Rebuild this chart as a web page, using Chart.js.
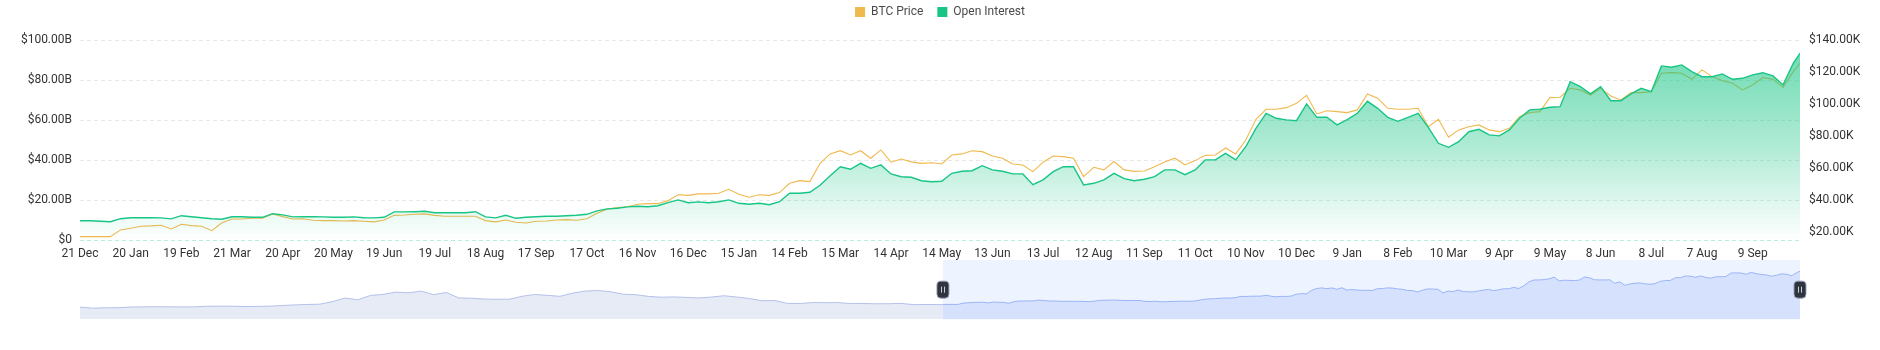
<!DOCTYPE html>
<html>
<head>
<meta charset="utf-8">
<script src="https://cdn.jsdelivr.net/npm/chart.js@4/dist/chart.umd.min.js"></script>
<style>
  html, body { margin: 0; padding: 0; background: #fff; width: 1880px; height: 350px; overflow: hidden; }
  #main { position: absolute; left: 0; top: 0; }
  #zoom { position: absolute; left: 0; top: 250px; }
</style>
</head>
<body>
<canvas id="main" width="1880" height="262"></canvas>
<canvas id="zoom" width="1880" height="80"></canvas>
<script>
// ---- Tick labels (one every 30 daily categories, starting 21 Dec 2022) ----
const tickLabels = ['21 Dec','20 Jan','19 Feb','21 Mar','20 Apr','20 May','19 Jun','19 Jul','18 Aug','17 Sep',
  '17 Oct','16 Nov','16 Dec','15 Jan','14 Feb','15 Mar','14 Apr','14 May','13 Jun','13 Jul','12 Aug','11 Sep',
  '11 Oct','10 Nov','10 Dec','9 Jan','8 Feb','10 Mar','9 Apr','9 May','8 Jun','8 Jul','7 Aug','9 Sep'];
const TICK_EVERY = 30;
const leftTicksB = [0, 20, 40, 60, 80, 100];
const rightTicksK = [20, 40, 60, 80, 100, 120, 140];

// ---- Series, sampled every 6 daily categories (last value = final day, index 1018) ----
const STEP = 6, LAST_INDEX = 1018;
const openInterestB = [
  9.8, 9.8, 9.5, 9.3, 10.8, 11.3, 11.3, 11.3, 11.2, 10.7, 12.3, 11.8, 11.3, 10.8, 10.5, 11.8, 11.8, 11.5, 11.5, 13.3,
  12.7, 11.7, 11.8, 11.8, 11.7, 11.5, 11.5, 11.7, 11.3, 11.2, 11.5, 14.2, 14.2, 14.3, 14.5, 13.8, 13.8, 13.8, 13.8, 14.3,
  11.7, 11.2, 12.5, 11.0, 11.5, 11.8, 12.0, 12.0, 12.3, 12.5, 13.0, 14.7, 15.7, 16.0, 16.7, 17.0, 16.8, 17.3, 18.8, 20.2,
  18.8, 19.2, 18.8, 19.3, 20.2, 18.5, 18.0, 18.5, 17.8, 19.3, 23.5, 23.5, 24.0, 27.5, 32.3, 36.8, 35.5, 38.5, 36.0, 37.7,
  33.2, 31.8, 31.5, 29.8, 29.3, 29.5, 33.5, 34.5, 34.8, 37.3, 35.2, 34.5, 33.2, 33.2, 27.8, 30.2, 34.3, 36.8, 36.8, 27.7,
  28.5, 30.2, 33.5, 30.8, 29.8, 30.5, 31.8, 35.2, 35.2, 32.8, 35.2, 40.2, 40.2, 43.5, 40.2, 46.8, 56.0, 63.5, 61.0, 60.2,
  59.8, 68.2, 61.5, 61.5, 57.7, 60.3, 63.5, 69.5, 66.0, 61.5, 59.5, 61.5, 63.5, 56.5, 48.5, 46.5, 49.3, 54.3, 55.5, 52.7,
  52.2, 55.2, 61.0, 65.2, 65.5, 66.5, 66.8, 79.3, 76.8, 73.2, 76.8, 69.8, 69.8, 73.2, 76.0, 74.3, 87.2, 86.5, 87.7, 84.3,
  81.8, 81.8, 83.2, 80.5, 81.0, 82.7, 83.8, 82.2, 77.7, 88.5, 93.5
];
const btcPriceK = [
  17.3, 17.3, 17.3, 17.3, 21.5, 22.5, 23.8, 24.0, 24.4, 22.1, 25.0, 24.2, 23.8, 21.0, 26.0, 28.3, 28.3, 28.8, 28.8, 31.5,
  29.8, 28.3, 28.5, 27.5, 27.3, 27.3, 27.1, 27.3, 26.9, 26.5, 27.7, 30.6, 30.8, 31.3, 31.5, 30.6, 30.0, 30.0, 30.0, 30.0,
  27.3, 26.5, 27.7, 26.3, 25.8, 26.9, 27.1, 27.7, 27.9, 27.5, 28.5, 31.9, 34.4, 35.4, 36.0, 37.5, 37.9, 37.9, 39.8, 43.5,
  43.1, 44.0, 44.0, 44.4, 46.9, 43.8, 41.9, 43.5, 43.1, 44.8, 50.6, 52.3, 51.7, 63.1, 69.0, 71.0, 68.3, 71.0, 66.3, 71.5,
  63.8, 65.8, 64.0, 63.1, 63.5, 62.7, 68.3, 69.0, 71.0, 70.4, 67.7, 66.3, 62.7, 62.1, 57.9, 63.8, 67.7, 67.3, 66.3, 54.8,
  60.6, 59.0, 64.2, 59.0, 58.1, 58.3, 61.0, 64.0, 66.3, 62.1, 64.8, 68.1, 68.3, 72.7, 69.0, 77.7, 90.6, 96.9, 96.9, 97.9,
  100.6, 105.6, 94.0, 96.0, 95.4, 94.8, 96.5, 106.5, 103.8, 97.5, 96.9, 96.9, 97.5, 86.0, 90.6, 79.4, 84.0, 86.0, 87.1, 84.0,
  82.9, 85.0, 92.3, 94.8, 95.4, 104.2, 104.4, 110.0, 109.0, 105.8, 110.0, 105.2, 102.7, 107.3, 107.3, 107.9, 119.4, 119.8, 119.4, 115.6,
  121.5, 117.3, 114.8, 113.1, 109.0, 112.1, 116.7, 115.6, 110.6, 120.4, 125.6
];

// ---- Zoom-slider preview: BTC price history before the selected window (every 15 days from 1 Mar 2020) ----
const HIST_START = -1025, HIST_STEP = 15;
const btcHistoryK = [
  8.5, 5.0, 6.4, 6.6, 8.6, 9.3, 9.7, 9.4, 9.2, 9.2, 11.1, 11.6, 11.5, 10.4, 10.7, 11.5, 13.6, 15.7, 17.1, 18.0,
  26.4, 38.0, 32.3, 46.4, 49.7, 57.3, 55.0, 60.5, 49.0, 56.0, 38.4, 37.3, 34.7, 33.8, 34.3, 43.8, 49.5, 46.8, 43.6, 53.8,
  60.7, 62.5, 58.6, 50.6, 48.9, 43.5, 40.7, 41.6, 40.1, 38.4, 41.2, 45.5, 41.4, 36.5, 29.2, 29.9, 20.6, 20.2, 23.4, 22.8,
  23.2, 20.0, 20.1, 19.3, 19.5, 20.5, 16.6, 17.0, 16.6
];

// ---- Styling ----
const FONT = 'Roboto, "Noto Sans", sans-serif';
const YELLOW = '#efb94d';
const GREEN = '#17c585';
Chart.defaults.font.family = FONT;
Chart.defaults.font.size = 12;
Chart.defaults.color = '#333333';

const sampleIndex = (i, n) => (i === n - 1 ? LAST_INDEX : i * STEP);
const oiPts = openInterestB.map((v, i) => ({ x: sampleIndex(i, openInterestB.length), y: v }));
const btcPts = btcPriceK.map((v, i) => ({ x: sampleIndex(i, btcPriceK.length), y: v }));

const MAIN_H = 262, PLOT_BOTTOM = 240.3, PLOT_TOP = 40.3, LEGEND_TOP = -8;

const legendFit = {
  id: 'legendFit',
  afterInit(chart) {
    const lg = chart.legend;
    if (!lg) return;
    const orig = lg.fit;
    lg.fit = function () { orig.apply(this, arguments); this.height = PLOT_TOP - LEGEND_TOP; };
  }
};

function oiGradient(ctx) {
  const chart = ctx.chart;
  const area = chart.chartArea;
  if (!area) return 'rgba(23,197,133,0.3)';
  const top = chart.scales.yL.getPixelForValue(Math.max(...openInterestB));
  const g = chart.ctx.createLinearGradient(0, top, 0, area.bottom);
  g.addColorStop(0, 'rgba(23,197,133,0.62)');
  g.addColorStop(0.5, 'rgba(23,197,133,0.34)');
  g.addColorStop(1, 'rgba(23,197,133,0.0)');
  return g;
}

new Chart(document.getElementById('main'), {
  type: 'line',
  data: {
    datasets: [
      { label: 'BTC Price', data: btcPts, yAxisID: 'yR', borderColor: YELLOW, backgroundColor: YELLOW,
        borderWidth: 1.1, pointRadius: 0, fill: false, tension: 0, order: 2 },
      { label: 'Open Interest', data: oiPts, yAxisID: 'yL', borderColor: GREEN, backgroundColor: oiGradient,
        borderWidth: 1.4, pointRadius: 0, fill: 'origin', tension: 0, order: 1 }
    ]
  },
  options: {
    responsive: false, animation: false, devicePixelRatio: 1,
    layout: { padding: { top: LEGEND_TOP, left: 0, right: 0, bottom: 0 } },
    plugins: {
      tooltip: { enabled: false },
      legend: {
        position: 'top', align: 'center',
        labels: {
          boxWidth: 10, boxHeight: 10, padding: 14, color: '#4a4a4a', font: { family: FONT, size: 12 },
          sort: (a, b) => a.datasetIndex - b.datasetIndex,
          generateLabels(chart) {
            return chart.data.datasets.map((ds, i) => ({
              text: ds.label, fillStyle: ds.borderColor, strokeStyle: ds.borderColor, lineWidth: 0,
              hidden: false, datasetIndex: i, fontColor: '#4a4a4a'
            }));
          }
        }
      }
    },
    scales: {
      x: {
        type: 'linear', min: 0, max: LAST_INDEX,
        grid: { display: false, drawTicks: false }, border: { display: false },
        afterBuildTicks: (s) => { s.ticks = tickLabels.map((_, i) => ({ value: i * TICK_EVERY })); },
        ticks: { autoSkip: false, maxRotation: 0, minRotation: 0, padding: 6, color: '#333333',
                 callback: (v) => tickLabels[Math.round(v / TICK_EVERY)] },
        afterFit: (s) => { s.height = MAIN_H - PLOT_BOTTOM; }
      },
      yL: {
        position: 'left', min: 0, max: 100,
        afterBuildTicks: (s) => { s.ticks = leftTicksB.map(v => ({ value: v })); },
        ticks: { padding: 8, color: '#333333', callback: (v) => (v === 0 ? '$0' : '$' + v.toFixed(2) + 'B') },
        grid: { drawTicks: false, lineWidth: 1, color: (c) => (c.tick && c.tick.value === 0 ? '#b3f1d8' : '#e8e8e8') },
        border: { display: false, dash: [4, 3] },
        afterFit: (s) => { s.width = 80; }
      },
      yR: {
        position: 'right', min: 15, max: 140,
        afterBuildTicks: (s) => { s.ticks = rightTicksK.map(v => ({ value: v })); },
        ticks: { padding: 9, color: '#333333', callback: (v) => '$' + v.toFixed(2) + 'K' },
        grid: { display: false, drawTicks: false }, border: { display: false },
        afterFit: (s) => { s.width = 80; }
      }
    }
  },
  plugins: [legendFit]
});

// ---- Zoom slider ----
const histPts = btcHistoryK.map((v, i) => ({ x: HIST_START + i * HIST_STEP, y: v }));
histPts.push({ x: 0, y: btcPriceK[0] });
const allBtc = btcHistoryK.concat(btcPriceK);
const bMin = Math.min(...allBtc), bMax = Math.max(...allBtc), bPad = (bMax - bMin) * 0.3;

const sliderDeco = {
  id: 'sliderDeco',
  beforeDatasetsDraw(chart) {
    const { ctx, chartArea: a, scales: { x } } = chart;
    const x0 = x.getPixelForValue(0), x1 = x.getPixelForValue(LAST_INDEX);
    ctx.save();
    ctx.fillStyle = 'rgba(135,175,255,0.15)';
    ctx.fillRect(x0, a.top, x1 - x0, a.bottom - a.top);
    ctx.restore();
  },
  afterDraw(chart) {
    const { ctx, chartArea: a, scales: { x } } = chart;
    const cy = (a.top + a.bottom) / 2;
    [x.getPixelForValue(0), x.getPixelForValue(LAST_INDEX)].forEach(cx => {
      const w = 12, h = 17, r = 4;
      ctx.save();
      ctx.beginPath();
      ctx.roundRect(cx - w / 2, cy - h / 2, w, h, r);
      ctx.fillStyle = '#30343f';
      ctx.fill();
      ctx.lineWidth = 1;
      ctx.strokeStyle = 'rgba(150,160,185,0.9)';
      ctx.stroke();
      ctx.fillStyle = '#c9ced8';
      ctx.fillRect(Math.round(cx) - 2, cy - 3, 1, 6);
      ctx.fillRect(Math.round(cx) + 1, cy - 3, 1, 6);
      ctx.restore();
    });
  }
};

new Chart(document.getElementById('zoom'), {
  type: 'line',
  data: {
    datasets: [
      { data: histPts, borderColor: '#aebbe6', borderWidth: 0.9, backgroundColor: 'rgba(210,219,238,0.55)',
        fill: 'start', pointRadius: 0, tension: 0 },
      { data: btcPts, borderColor: '#93aef5', borderWidth: 0.9, backgroundColor: 'rgba(143,176,247,0.25)',
        fill: 'start', pointRadius: 0, tension: 0 }
    ]
  },
  options: {
    responsive: false, animation: false, devicePixelRatio: 1,
    layout: { padding: { left: 80, right: 80, top: 10, bottom: 10.7 } },
    plugins: { legend: { display: false }, tooltip: { enabled: false } },
    scales: {
      x: { type: 'linear', display: false, min: HIST_START, max: LAST_INDEX },
      y: { display: false, min: bMin - bPad, max: bMax + bPad }
    }
  },
  plugins: [sliderDeco]
});
</script>
</body>
</html>
